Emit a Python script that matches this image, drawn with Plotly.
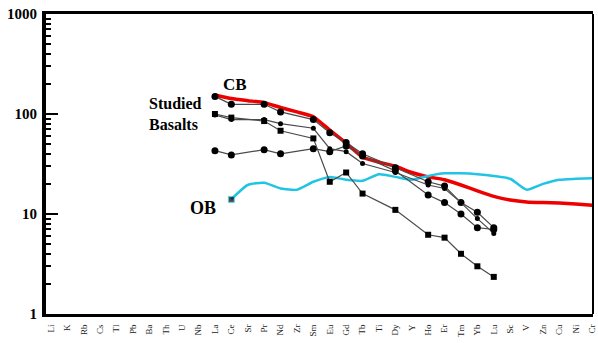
import plotly.graph_objects as go

categories = ["Li", "K", "Rb", "Cs", "Tl", "Pb", "Ba", "Th", "U", "Nb", "La", "Ce", "Sr", "Pr",
              "Nd", "Zr", "Sm", "Eu", "Gd", "Tb", "Ti", "Dy", "Y", "Ho", "Er", "Tm", "Yb", "Lu",
              "Sc", "V", "Zn", "Cu", "Ni", "Cr"]

# Continental basalt (CB) reference pattern, La..Cr
cb_elements = categories[10:]
cb_values = [155, 143, 136, 130, 116, 105, 94, 69, 51, 37, 33, 30, 26, 23.5, 22, 19.5, 17,
             15, 13.8, 13.2, 13, 12.9, 12.6, 12.2]

# Oceanic basalt (OB) reference pattern, Ce..Cr
ob_elements = categories[11:]
ob_values = [14, 19.5, 20.5, 18, 17.5, 21, 23.5, 22, 21.5, 25, 23.5, 22, 24, 25.5, 25.5, 25,
             24, 22.5, 17.5, 20, 22, 22.5, 22.8]

# Studied basalts (REE only)
ree_elements = ["La", "Ce", "Pr", "Nd", "Sm", "Eu", "Gd", "Tb", "Dy", "Ho", "Er", "Tm", "Yb", "Lu"]
basalt_1 = [150, 125, 125, 105, 88, 65, 52, 40, 29, 21, 19, 13, 10.4, 7.3]
basalt_2 = [98, 88, 88, 80, 72, 45, 42, 32, 26, 19.5, 18, 13, 9, 6.4]
basalt_3 = [43, 39, 44, 40, 45, 42, 48, 38, 27, 15.5, 13, 10, 7.3, 7.0]
basalt_4 = [100, 92, 85, 68, 57, 21, 26, 16, 11, 6.2, 5.8, 4.0, 3.0, 2.35]

y_tick_vals = [1, 10, 100, 1000]
y_tick_text = ["<b>1</b>", "<b>10</b>", "<b>100</b>", "<b>1000</b>"]

fig = go.Figure()

fig.add_trace(go.Scatter(x=cb_elements, y=cb_values, mode="lines",
                         line=dict(color="#ee0000", width=3.5, shape="spline", smoothing=0.4),
                         showlegend=False))
fig.add_trace(go.Scatter(x=ob_elements, y=ob_values, mode="lines+markers",
                         line=dict(color="#22c4e4", width=2.5, shape="spline", smoothing=0.6),
                         marker=dict(color="black", symbol="square",
                                     size=[6] + [0] * (len(ob_values) - 1)),
                         showlegend=False))

series = [(basalt_1, "circle", 7), (basalt_2, "circle", 5),
          (basalt_3, "circle", 7), (basalt_4, "square", 6)]
for vals, sym, sz in series:
    fig.add_trace(go.Scatter(x=ree_elements, y=vals, mode="lines+markers",
                             line=dict(color="#4a4a4a", width=1.2),
                             marker=dict(color="black", symbol=sym, size=sz),
                             showlegend=False))

serif = "Liberation Serif, Times New Roman, serif"
fig.add_annotation(x=0.345, y=0.765, xref="paper", yref="paper", text="<b>CB</b>",
                   showarrow=False, xanchor="center", yanchor="middle",
                   font=dict(family=serif, size=17, color="black"))
fig.add_annotation(x=0.184, y=0.665, xref="paper", yref="paper",
                   text="<b>Studied<br>Basalts</b>", showarrow=False, align="left",
                   xanchor="left", yanchor="middle",
                   font=dict(family=serif, size=16, color="black"))
fig.add_annotation(x=0.287, y=0.353, xref="paper", yref="paper", text="<b>OB</b>",
                   showarrow=False, xanchor="center", yanchor="middle",
                   font=dict(family=serif, size=18, color="black"))

fig.add_shape(type="line", xref="paper", yref="paper", x0=1, x1=1, y0=0, y1=1,
              line=dict(color="black", width=2))

fig.update_layout(
    width=598, height=343,
    margin=dict(l=46, r=5, t=14, b=29),
    plot_bgcolor="white", paper_bgcolor="white",
    xaxis=dict(type="category", categoryorder="array", categoryarray=categories,
               tickmode="array", tickvals=categories, ticktext=categories,
               range=[-0.3, 33.05], tickangle=-90, showgrid=False, zeroline=False,
               showline=True, linecolor="black", linewidth=3, mirror=True,
               ticks="", ticklabelstandoff=4, automargin=False,
               tickfont=dict(family=serif, size=9, color="#222222")),
    yaxis=dict(type="log", range=[0, 3], tickmode="array", tickvals=y_tick_vals,
               ticktext=y_tick_text, showgrid=False, zeroline=False,
               showline=True, linecolor="black", linewidth=4, automargin=False,
               ticks="inside", ticklen=12, tickwidth=2, tickcolor="black",
               minor=dict(ticks="inside", ticklen=5, tickwidth=1.5, tickcolor="black",
                          dtick="D1", showgrid=False),
               ticklabelstandoff=2,
               tickfont=dict(family=serif, size=15, color="black")),
)

fig.write_html("out.html", config={"displayModeBar": False},
               post_script="document.body.style.margin='0';")
